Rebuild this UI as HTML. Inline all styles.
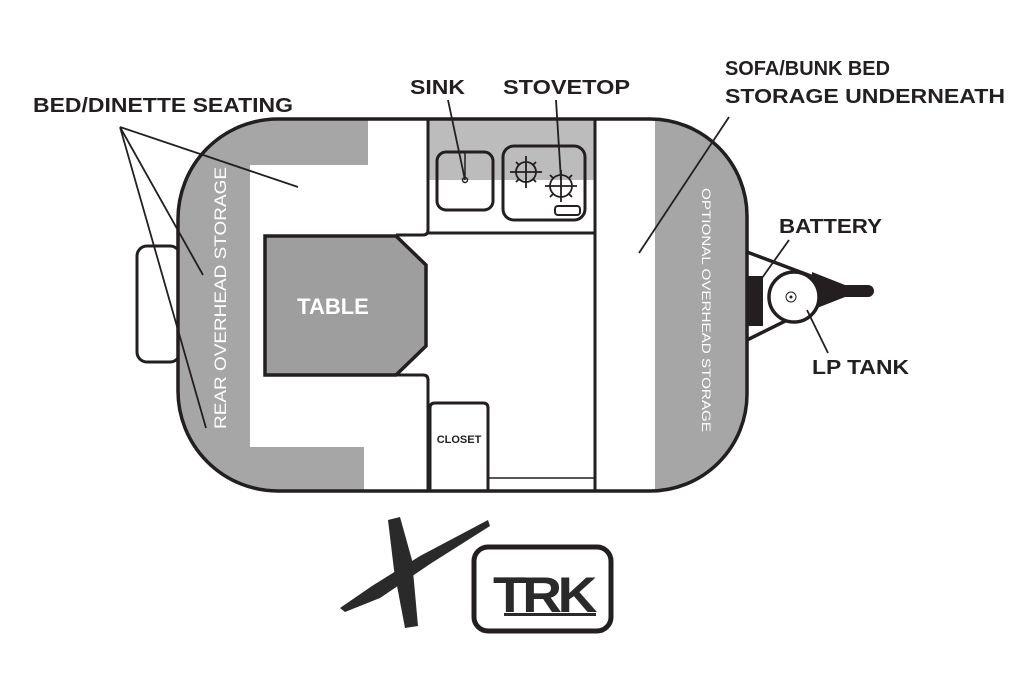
<!DOCTYPE html>
<html><head><meta charset="utf-8"><style>html,body{margin:0;padding:0;background:#fff}svg{display:block}</style></head>
<body>
<svg width="1036" height="693" viewBox="0 0 1036 693" xmlns="http://www.w3.org/2000/svg" font-family="Liberation Sans, sans-serif">
<defs>
<clipPath id="body"><path d="M278,119 H650 A97,97 0 0 1 747,216 V394 A97,97 0 0 1 650,491 H278 A100,100 0 0 1 178,391 V219 A100,100 0 0 1 278,119 Z"/></clipPath>
</defs>
<!-- bumper -->
<rect x="137" y="246" width="43" height="116" rx="10" fill="#fff" stroke="#231f20" stroke-width="3"/>
<!-- hitch -->
<path d="M747,252 L848,290 L747,340" fill="none" stroke="#231f20" stroke-width="3.5"/>
<path d="M812,272 L845,285 L868,285 A6,6 0 0 1 868,297 L845,297 L812,310 Z" fill="#231f20"/>
<rect x="744" y="276" width="19" height="50" fill="#231f20"/>
<circle cx="794" cy="297" r="25" fill="#fff" stroke="#231f20" stroke-width="3.5"/>
<circle cx="791" cy="297" r="5" fill="none" stroke="#231f20" stroke-width="1"/>
<circle cx="791" cy="297" r="1.5" fill="#231f20"/>
<!-- body fills -->
<g clip-path="url(#body)">
<rect x="170" y="110" width="600" height="400" fill="#fff"/>
<path d="M170,110 H368 V165 H250 V447 H364 V500 H170 Z" fill="#a7a6a6"/>
<rect x="428" y="110" width="167" height="70" fill="#bcbcbc"/>
<rect x="655" y="110" width="120" height="400" fill="#a7a6a6"/>
</g>
<path d="M278,119 H650 A97,97 0 0 1 747,216 V394 A97,97 0 0 1 650,491 H278 A100,100 0 0 1 178,391 V219 A100,100 0 0 1 278,119 Z" fill="none" stroke="#231f20" stroke-width="3.5"/>
<!-- walls -->
<path d="M428,119 V230 Q428,235 423,235 H396" fill="none" stroke="#231f20" stroke-width="3"/>
<path d="M396,375 H423 Q428,375 428,380 V491" fill="none" stroke="#231f20" stroke-width="3"/>
<path d="M428,233 H595" stroke="#231f20" stroke-width="3"/>
<path d="M595,119 V491" stroke="#231f20" stroke-width="3"/>
<polygon points="265,236 396,236 426,265 426,346 396,375 265,375" fill="#9e9e9e" stroke="#231f20" stroke-width="3.5"/>
<text x="333" y="314" font-size="22" font-weight="bold" fill="#fff" text-anchor="middle">TABLE</text>
<!-- sink & stove -->
<rect x="437" y="152" width="56" height="58" rx="9" fill="none" stroke="#231f20" stroke-width="3"/>
<path d="M465,153 V178" stroke="#231f20" stroke-width="1.5"/><circle cx="465" cy="180" r="2.5" fill="none" stroke="#231f20" stroke-width="1.5"/>
<rect x="503" y="146" width="82" height="74" rx="11" fill="none" stroke="#231f20" stroke-width="3"/>
<g stroke="#231f20" stroke-width="1.8" fill="none">
<circle cx="526" cy="172" r="10"/><path d="M526,156 V188 M510,172 H542 M516,162 L519,165 M536,162 L533,165 M516,182 L519,179 M536,182 L533,179"/>
<circle cx="561" cy="186" r="11"/><path d="M561,170 V202 M545,186 H577 M550,175 L553,178 M572,175 L569,178 M550,197 L553,194 M572,197 L569,194"/>
</g>
<rect x="555" y="206" width="25" height="9" rx="3" fill="none" stroke="#231f20" stroke-width="2"/>
<!-- closet -->
<path d="M430,491 V408 Q430,403 435,403 H483 Q488,403 488,408 V491" fill="none" stroke="#231f20" stroke-width="3"/>
<text x="459" y="443" font-size="11" font-weight="bold" fill="#231f20" text-anchor="middle">CLOSET</text>
<path d="M488,478 H595" stroke="#231f20" stroke-width="1.5"/>
<!-- vertical labels -->
<text transform="translate(226,298) rotate(-90)" font-size="17" fill="#fff" text-anchor="middle" textLength="262" lengthAdjust="spacingAndGlyphs">REAR OVERHEAD STORAGE</text>
<text transform="translate(702,310) rotate(90)" font-size="12" fill="#fff" text-anchor="middle" textLength="244" lengthAdjust="spacingAndGlyphs">OPTIONAL OVERHEAD STORAGE</text>
<!-- leader lines -->
<g stroke="#231f20" stroke-width="1.8">
<path d="M120,127 L298,187 M120,127 L203,275 M120,127 L206,428"/>
<path d="M448,100 L465,180"/>
<path d="M556,100 L561,180"/>
<path d="M729,117 L639,253"/>
<path d="M789,240 L762,278"/>
<path d="M807,310 L828,353"/>
</g>
<!-- labels -->
<g font-size="20" font-weight="bold" fill="#231f20">
<text x="33" y="112" textLength="260" lengthAdjust="spacingAndGlyphs">BED/DINETTE SEATING</text>
<text x="410" y="94" textLength="55" lengthAdjust="spacingAndGlyphs">SINK</text>
<text x="503" y="94" textLength="127" lengthAdjust="spacingAndGlyphs">STOVETOP</text>
<text x="725" y="75" textLength="165" lengthAdjust="spacingAndGlyphs">SOFA/BUNK BED</text>
<text x="725" y="103" textLength="280" lengthAdjust="spacingAndGlyphs">STORAGE UNDERNEATH</text>
<text x="779" y="233" textLength="103" lengthAdjust="spacingAndGlyphs">BATTERY</text>
<text x="812" y="374" textLength="97" lengthAdjust="spacingAndGlyphs">LP TANK</text>
</g>
<!-- logo X -->
<g fill="#2b2a2a">
<polygon points="388,520 400,517 412,560 418,626 405,628 394,570"/>
<polygon points="340,608 372,586 420,556 488,520 490,526 430,564 380,598 345,612"/>
</g>
<rect x="474" y="547" width="137" height="84" rx="14" fill="none" stroke="#231f20" stroke-width="5"/>
<text x="493" y="612" font-size="50" font-weight="bold" fill="#2b2a2a" textLength="100" lengthAdjust="spacingAndGlyphs" letter-spacing="-4">TRK</text>
<rect x="504" y="613" width="92" height="3" fill="#2b2a2a"/>
</svg>
</body></html>
